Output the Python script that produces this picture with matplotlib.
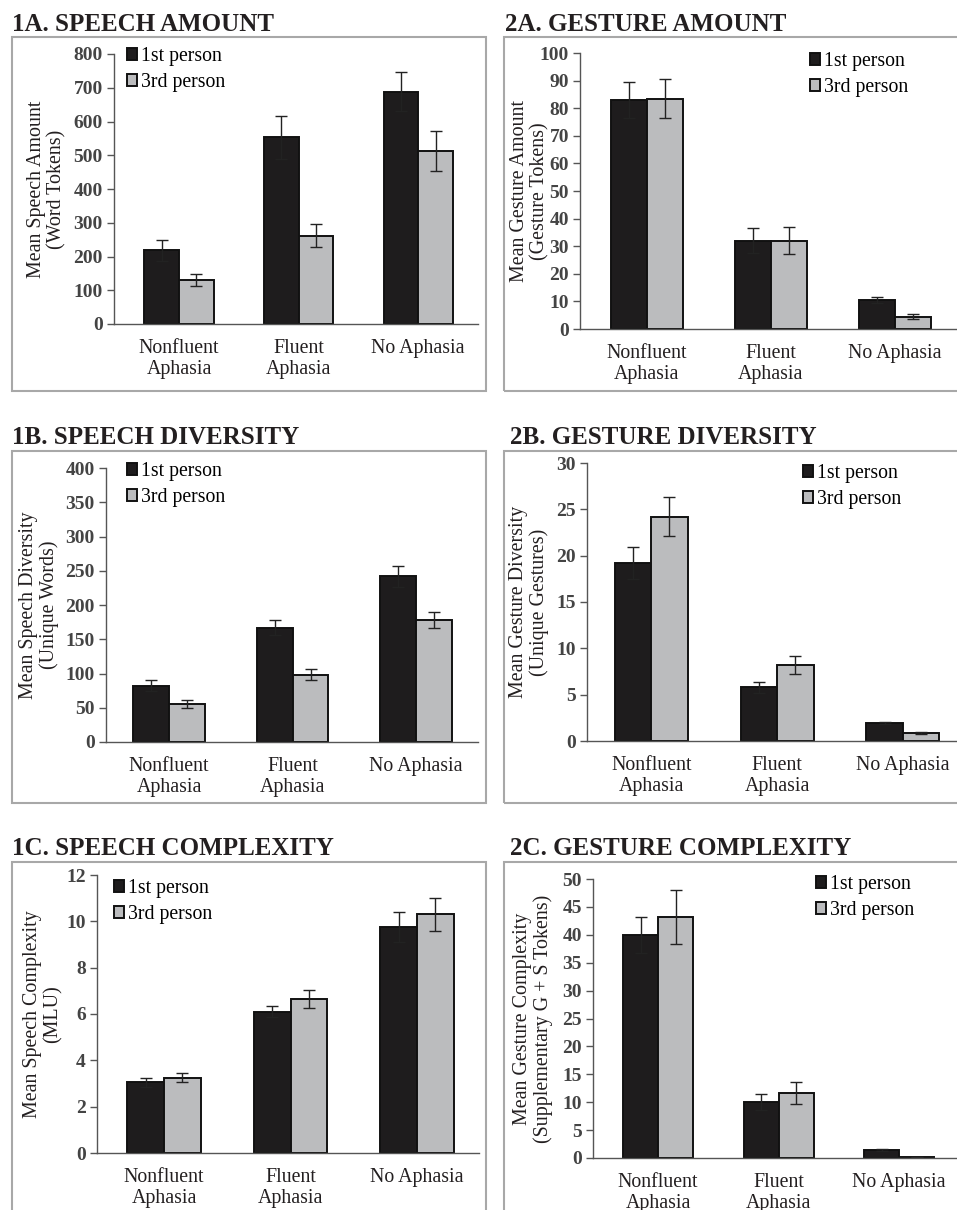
import numpy as np
import matplotlib
matplotlib.use("Agg")
import matplotlib.pyplot as plt
from matplotlib.patches import Rectangle

plt.rcParams["font.family"] = ["Liberation Serif", "DejaVu Serif"]

W, H = 957, 1210

categories = ["Nonfluent\nAphasia", "Fluent\nAphasia", "No Aphasia"]
series_names = ["1st person", "3rd person"]

# 1A speech amount (word tokens)
speech_amount_1st = [218, 553, 688]
speech_amount_1st_err = [30, 63, 58]
speech_amount_3rd = [130, 262, 513]
speech_amount_3rd_err = [17, 33, 60]

# 2A gesture amount (gesture tokens)
gesture_amount_1st = [83, 32, 10.5]
gesture_amount_1st_err = [6.5, 4.5, 1.0]
gesture_amount_3rd = [83.5, 32, 4.5]
gesture_amount_3rd_err = [7, 5, 0.8]

# 1B speech diversity (unique words)
speech_div_1st = [82, 167, 242]
speech_div_1st_err = [8, 11, 15]
speech_div_3rd = [56, 98, 178]
speech_div_3rd_err = [6, 8, 12]

# 2B gesture diversity (unique gestures)
gesture_div_1st = [19.2, 5.8, 1.9]
gesture_div_1st_err = [1.7, 0.6, 0.1]
gesture_div_3rd = [24.2, 8.2, 0.9]
gesture_div_3rd_err = [2.1, 1.0, 0.1]

# 1C speech complexity (MLU)
speech_cx_1st = [3.05, 6.1, 9.75]
speech_cx_1st_err = [0.2, 0.25, 0.65]
speech_cx_3rd = [3.25, 6.65, 10.3]
speech_cx_3rd_err = [0.2, 0.4, 0.7]

# 2C gesture complexity (supplementary G + S tokens)
gesture_cx_1st = [40, 10, 1.4]
gesture_cx_1st_err = [3.2, 1.4, 0.2]
gesture_cx_3rd = [43.2, 11.7, 0.2]
gesture_cx_3rd_err = [4.9, 2.0, 0.05]

# panel layout in pixels: axes (left, right, top, bottom), xlim, legend anchor
panels = [
    dict(title="1A. SPEECH AMOUNT", tx=12, ty=31, frame=(12, 486, 37, 391),
         ax=(114, 478, 54, 324), xl=-0.544, xr=2.5, ymax=800, step=100,
         ylabel="Mean Speech Amount\n(Word Tokens)", lx=47,
         leg=(127, 47), d=(speech_amount_1st, speech_amount_1st_err,
                           speech_amount_3rd, speech_amount_3rd_err)),
    dict(title="2A. GESTURE AMOUNT", tx=505, ty=31, frame=(504, 965, 37, 391),
         ax=(580, 957, 53, 329), xl=-0.54, xr=2.5, ymax=100, step=10,
         ylabel="Mean Gesture Amount\n(Gesture Tokens)", lx=530,
         leg=(810, 52), d=(gesture_amount_1st, gesture_amount_1st_err,
                           gesture_amount_3rd, gesture_amount_3rd_err)),
    dict(title="1B. SPEECH DIVERSITY", tx=12, ty=444, frame=(12, 486, 451, 803),
         ax=(106, 478, 468, 742), xl=-0.51, xr=2.5, ymax=400, step=50,
         ylabel="Mean Speech Diversity\n(Unique Words)", lx=39,
         leg=(127, 462), d=(speech_div_1st, speech_div_1st_err,
                            speech_div_3rd, speech_div_3rd_err)),
    dict(title="2B. GESTURE DIVERSITY", tx=510, ty=444, frame=(504, 965, 451, 803),
         ax=(587, 957, 463, 741), xl=-0.51, xr=2.43, ymax=30, step=5,
         ylabel="Mean Gesture Diversity\n(Unique Gestures)", lx=529,
         leg=(803, 464), d=(gesture_div_1st, gesture_div_1st_err,
                            gesture_div_3rd, gesture_div_3rd_err)),
    dict(title="1C. SPEECH COMPLEXITY", tx=12, ty=855, frame=(12, 486, 862, 1230),
         ax=(97, 479, 875, 1153), xl=-0.53, xr=2.49, ymax=12, step=2,
         ylabel="Mean Speech Complexity\n(MLU)", lx=43,
         leg=(114, 879), d=(speech_cx_1st, speech_cx_1st_err,
                            speech_cx_3rd, speech_cx_3rd_err)),
    dict(title="2C. GESTURE COMPLEXITY", tx=510, ty=855, frame=(504, 965, 862, 1230),
         ax=(593, 957, 879, 1158), xl=-0.54, xr=2.48, ymax=50, step=5,
         ylabel="Mean Gesture Complexity\n(Supplementary G + S Tokens)", lx=533,
         leg=(816, 875), d=(gesture_cx_1st, gesture_cx_1st_err,
                            gesture_cx_3rd, gesture_cx_3rd_err)),
]

dark = "#1e1c1d"
light = "#bbbcbe"
axis_col = "#555555"
text_col = "#231f20"

fig = plt.figure(figsize=(W / 100, H / 100), dpi=100)
fig.patch.set_facecolor("white")

x = np.arange(len(categories))
bw = 0.29

for p in panels:
    fl, fr, ft, fb = p["frame"]
    fig.patches.append(Rectangle((fl / W, 1 - fb / H), (fr - fl) / W, (fb - ft) / H,
                                 transform=fig.transFigure, fill=False,
                                 edgecolor="#a8a8a8", linewidth=1.5))
    fig.text(p["tx"] / W, 1 - p["ty"] / H, p["title"], fontsize=18,
             fontweight="bold", color=text_col, va="baseline", ha="left")

    l, r, t, b = p["ax"]
    ax = fig.add_axes([l / W, 1 - b / H, (r - l) / W, (b - t) / H])
    v1, e1, v3, e3 = p["d"]
    ekw = dict(ecolor="#222222", elinewidth=1.0, capsize=4.5, capthick=1.0)
    ax.bar(x - bw / 2, v1, bw, yerr=e1, color=dark, edgecolor="#111111",
           linewidth=1.4, error_kw=ekw, label=series_names[0], zorder=2)
    ax.bar(x + bw / 2, v3, bw, yerr=e3, color=light, edgecolor="#111111",
           linewidth=1.4, error_kw=ekw, label=series_names[1], zorder=2)

    ax.set_xlim(p["xl"], p["xr"])
    ax.set_ylim(0, p["ymax"])
    ax.set_yticks(np.arange(0, p["ymax"] + p["step"] / 2, p["step"]))
    ax.set_xticks(x)
    ax.set_xticklabels(categories, fontsize=14.3, linespacing=1.15, color=text_col)
    for s in ["top", "right"]:
        ax.spines[s].set_visible(False)
    for s in ["left", "bottom"]:
        ax.spines[s].set_color(axis_col)
        ax.spines[s].set_linewidth(1.0)
    ax.tick_params(axis="x", length=0, pad=11)
    ax.tick_params(axis="y", length=5, width=1.0, color=axis_col, pad=3,
                   labelsize=14, labelcolor="#444444")
    for lab in ax.get_yticklabels():
        lab.set_fontweight("bold")
    ax.set_ylabel(p["ylabel"], fontsize=14.4, linespacing=1.1, color=text_col)
    ax.yaxis.label.set_va("center")
    ax.yaxis.set_label_coords((p["lx"] - l) / (r - l), 0.5)
    ax.set_facecolor("none")

    lx, ly = p["leg"]
    ax.legend(loc="upper left", bbox_to_anchor=(lx / W, 1 - ly / H),
              bbox_transform=fig.transFigure, frameon=False, fontsize=14.2,
              borderpad=0, borderaxespad=0, handlelength=0.5, handleheight=0.5,
              handletextpad=0.2, labelspacing=0.35)

fig.savefig("out.png", dpi=100)
